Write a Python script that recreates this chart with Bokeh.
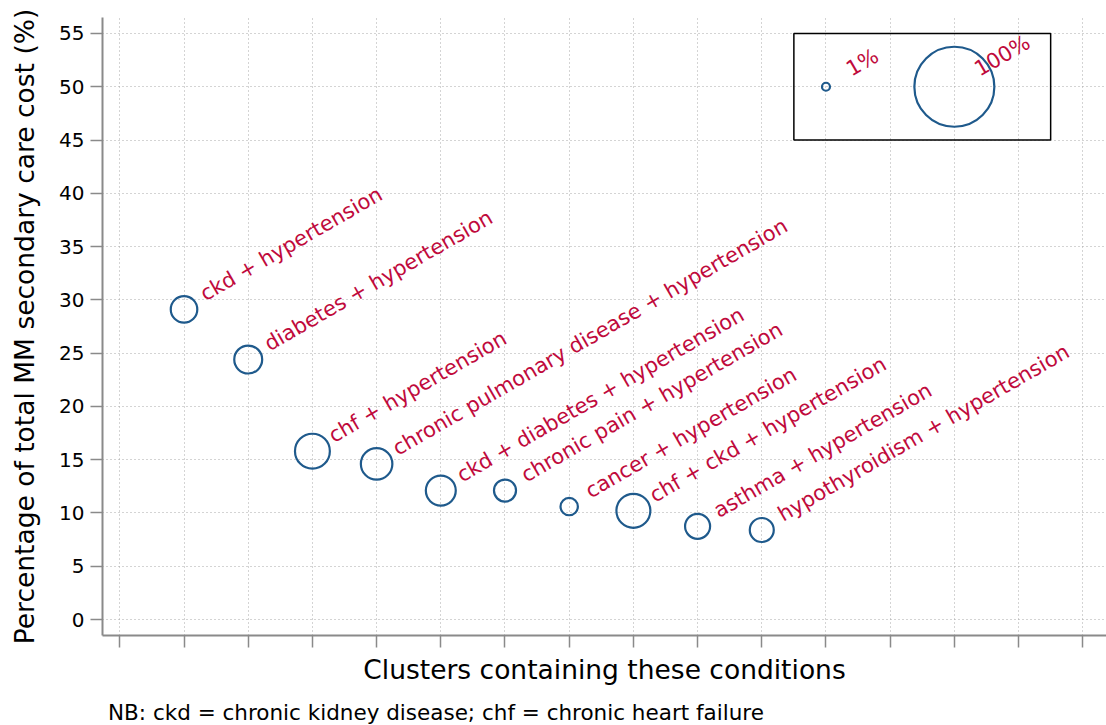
from bokeh.plotting import figure
from bokeh.models import FixedTicker, Range1d, Div
from bokeh.layouts import column
from bokeh.embed import file_html
from bokeh.resources import INLINE
from bokeh.core.properties import value
import numpy as np

# ---- data ----
conditions = [
    "ckd + hypertension",
    "diabetes + hypertension",
    "chf + hypertension",
    "chronic pulmonary disease + hypertension",
    "ckd + diabetes + hypertension",
    "chronic pain + hypertension",
    "cancer + hypertension",
    "chf + ckd + hypertension",
    "asthma + hypertension",
    "hypothyroidism + hypertension",
]
cluster_pos = [1, 2, 3, 4, 5, 6, 7, 8, 9, 10]
cost_pct = [29.1, 24.4, 15.8, 14.6, 12.1, 12.1, 10.6, 10.2, 8.75, 8.4]
bubble_pct = [11.0, 12.2, 19.0, 15.5, 14.0, 7.6, 4.7, 18.0, 9.8, 9.0]

legend_pos = [11, 13]
legend_y = [50, 50]
legend_pct = [1, 100]
legend_labels = ["1%", "100%"]
legend_box = dict(left=[10.5], right=[14.5], bottom=[45], top=[55])

y_ticks = list(range(0, 60, 5))
x_ticks = list(range(0, 16))
footnote = "NB: ckd = chronic kidney disease; chf = chronic heart failure"

# ---- style ----
FONT = "DejaVu Sans"
NAVY = "#1f5a8c"
RED = "#c00a3c"
MAXD = 80  # px diameter for 100%

def diam(p):
    return [MAXD * np.sqrt(v / 100.0) for v in p]

p = figure(width=1106, height=700, output_backend="svg", toolbar_location=None,
           x_range=Range1d(-0.27, 15.37), y_range=Range1d(-1.5, 56.5),
           min_border_left=102, min_border_top=17, min_border_right=0, min_border_bottom=65)
p.outline_line_color = None
p.background_fill_color = "white"
p.border_fill_color = "white"

# grid
for g in (p.xgrid, p.ygrid):
    g.grid_line_color = "#a8a8a8"
    g.grid_line_dash = "1 3"
    g.grid_line_width = 1
p.xaxis.ticker = FixedTicker(ticks=x_ticks)
p.yaxis.ticker = FixedTicker(ticks=y_ticks)
p.xgrid.ticker = FixedTicker(ticks=x_ticks)
p.ygrid.ticker = FixedTicker(ticks=y_ticks)

for ax in (p.xaxis, p.yaxis):
    ax.axis_line_color = "#8a8a8a"
    ax.axis_line_width = 2
    ax.major_tick_line_color = "#8a8a8a"
    ax.major_tick_line_width = 1.5
    ax.major_tick_out = 12
    ax.major_tick_in = 0
    ax.minor_tick_line_color = None
    ax.axis_label_text_font = FONT
    ax.axis_label_text_font_style = "normal"
    ax.axis_label_text_color = "black"
    ax.major_label_text_font = FONT
    ax.major_label_text_color = "black"

p.yaxis.axis_label = "Percentage of total MM secondary care cost (%)"
p.yaxis.axis_label_text_font_size = "26.5px"
p.yaxis.major_label_text_font_size = "20px"
p.yaxis.major_label_standoff = 6
p.yaxis.axis_label_standoff = 16

p.xaxis.axis_label = "Clusters containing these conditions"
p.xaxis.axis_label_text_font_size = "26.5px"
p.xaxis.major_label_overrides = {t: "" for t in x_ticks}
p.xaxis.major_label_text_font_size = "1px"
p.xaxis.major_label_standoff = 0
p.xaxis.axis_label_standoff = 6

# legend box
p.quad(left=legend_box["left"], right=legend_box["right"], bottom=legend_box["bottom"],
       top=legend_box["top"], fill_alpha=0, line_color="black", line_width=1.5)

# bubbles
p.scatter(x=cluster_pos, y=cost_pct, size=diam(bubble_pct), marker="circle",
          fill_alpha=0, line_color=NAVY, line_width=2.2)
p.scatter(x=legend_pos, y=legend_y, size=diam(legend_pct), marker="circle",
          fill_alpha=0, line_color=NAVY, line_width=2.2)

# labels
p.text(x=cluster_pos, y=cost_pct, text=conditions, angle=30, angle_units="deg",
       text_font=value(FONT), text_font_size="21px", text_color=RED,
       text_align="left", text_baseline="middle", x_offset=18, y_offset=-14)
p.text(x=legend_pos, y=legend_y, text=legend_labels, angle=30, angle_units="deg",
       text_font=value(FONT), text_font_size="21px", text_color=RED,
       text_align="left", text_baseline="middle", x_offset=22, y_offset=-16)

note = Div(text=footnote, width=1106, height=25, margin=(0, 0, 0, 0),
           styles={"font-family": "'DejaVu Sans'", "font-size": "21.5px",
                   "line-height": "25px", "color": "black", "padding-left": "108px",
                   "white-space": "nowrap"})

layout = column(p, note, spacing=0)
open("out.html", "w").write(file_html(layout, INLINE))
